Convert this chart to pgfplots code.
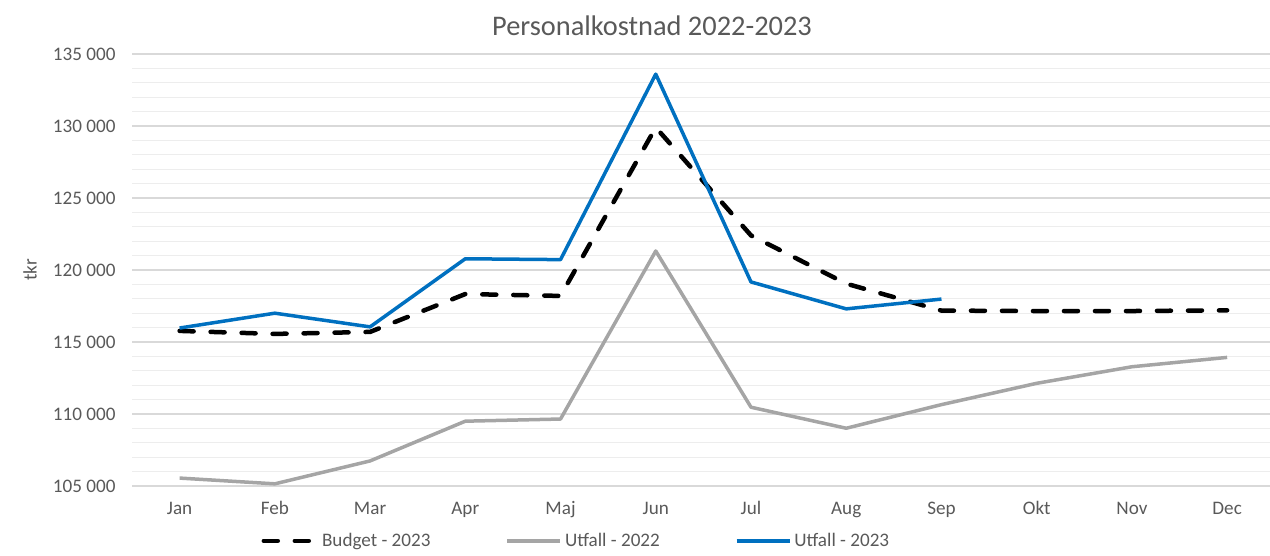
\documentclass[border=0pt]{standalone}
\usepackage{pgfplots}
\pgfplotsset{compat=1.18}
\usepackage{fontspec}
\setmainfont{Carlito}
\definecolor{txt}{HTML}{595959}
\definecolor{gridmaj}{HTML}{D9D9D9}
\definecolor{gridmin}{HTML}{EDEDED}
\definecolor{blueline}{HTML}{0070C0}
\definecolor{greyline}{HTML}{A5A5A5}
\begin{document}
\begin{tikzpicture}[x=1bp,y=1bp]
\useasboundingbox (0,0) rectangle (1270,556);
\node[text=txt, font=\fontsize{28.5}{32}\selectfont] at (652,530) {Personalkostnad 2022-2023};
\begin{axis}[
  at={(132bp,70bp)}, anchor=south west,
  width=1138bp, height=432bp, scale only axis,
  xmin=-0.5, xmax=11.45,
  ymin=105000, ymax=135000,
  xtick={0,...,11},
  xticklabels={Jan,Feb,Mar,Apr,Maj,Jun,Jul,Aug,Sep,Okt,Nov,Dec},
  ytick={105000,110000,...,135000},
  minor y tick num=4,
  ymajorgrids, yminorgrids,
  major grid style={draw=gridmaj, line width=1.3bp},
  minor grid style={draw=gridmin, line width=1.1bp},
  axis line style={draw=none},
  tick style={draw=none},
  scaled y ticks=false,
  yticklabel={\pgfmathprintnumber[fixed, precision=0, assume math mode=true, 1000 sep={\ }]{\tick}},
  yticklabel style={text=txt, font=\fontsize{19.2}{23}\selectfont, xshift=-13bp},
  xticklabel style={text=txt, font=\fontsize{19.2}{23}\selectfont, anchor=base, yshift=-29bp},
  ylabel={tkr},
  ylabel style={text=txt, font=\fontsize{19.2}{23}\selectfont, at={(axis description cs:-0.0895,0.5)}, anchor=center},
  legend columns=3,
  legend style={draw=none, fill=none, at={(axis description cs:0.3905,-0.127)}, anchor=center,
    font=\fontsize{19.2}{23}\selectfont, text=txt, inner xsep=0bp,
    nodes={inner xsep=2bp},
    /tikz/every odd column/.append style={column sep=1bp},
    /tikz/every even column/.append style={column sep=73bp}},
  legend cell align=left,
  legend image code/.code={\draw[#1] (0bp,0bp) -- (53bp,0bp);},
]
\addplot[black, line width=4.5bp, dash pattern=on 14bp off 17bp, line cap=round, line join=round]
  coordinates {(0,115770) (1,115560) (2,115700) (3,118330) (4,118200) (5,129900) (6,122400) (7,119050) (8,117180) (9,117150) (10,117150) (11,117200)};
\addlegendentry{Budget - 2023}
\addplot[greyline, line width=3.5bp, line join=round]
  coordinates {(0,105550) (1,105150) (2,106740) (3,109500) (4,109650) (5,121320) (6,110470) (7,109010) (8,110650) (9,112130) (10,113280) (11,113930)};
\addlegendentry{Utfall - 2022}
\addplot[blueline, line width=3.5bp, line join=round]
  coordinates {(0,115970) (1,117000) (2,116050) (3,120780) (4,120720) (5,133600) (6,119170) (7,117300) (8,117980)};
\addlegendentry{Utfall - 2023}
\end{axis}
\end{tikzpicture}
\end{document}
